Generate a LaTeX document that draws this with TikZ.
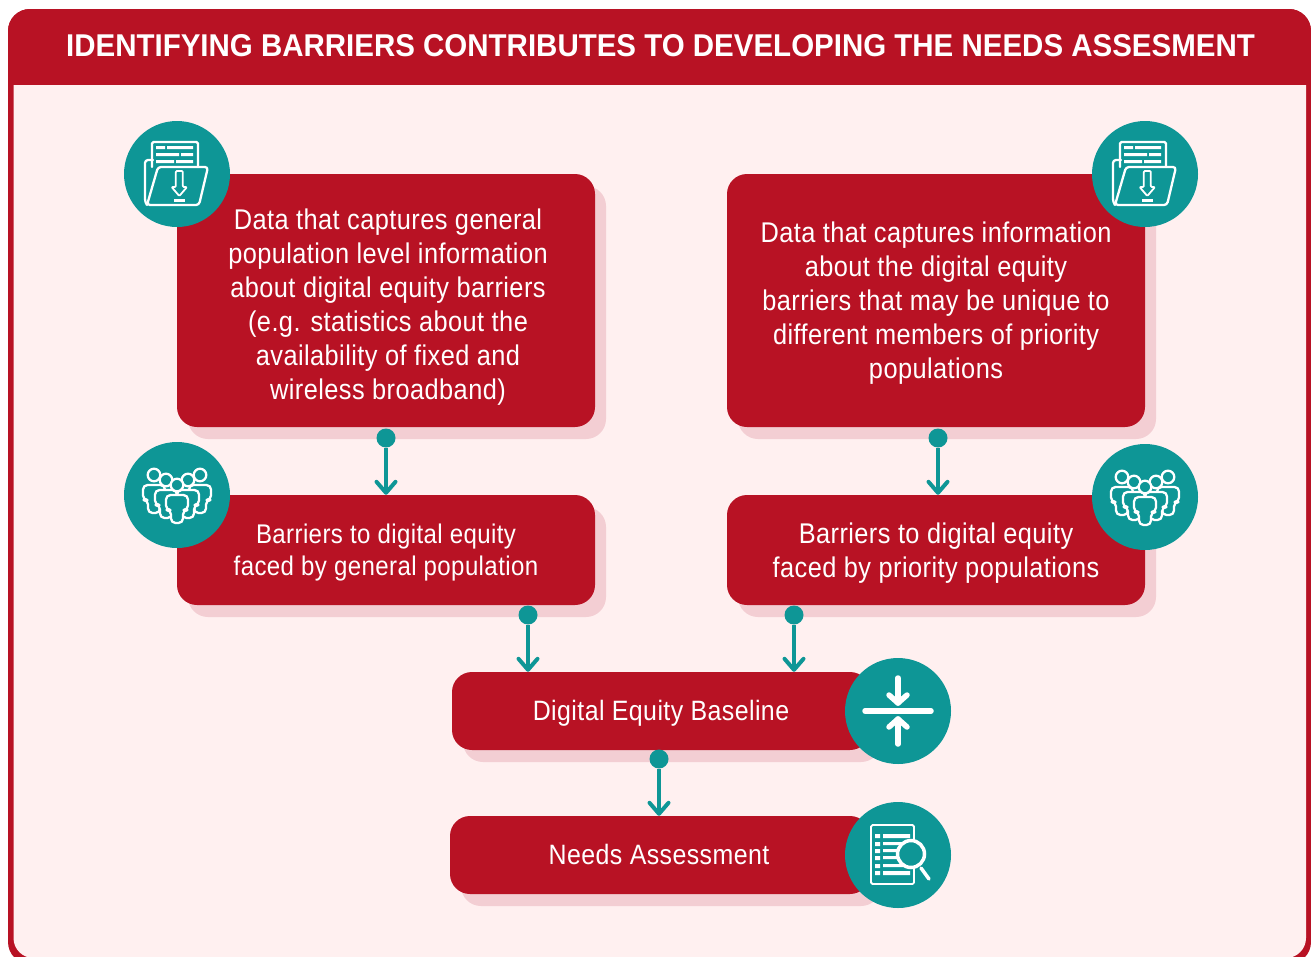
\documentclass[tikz,border=0pt]{standalone}
\usepackage{fontspec}
\setmainfont[FakeStretch=0.89,LetterSpace=1.5]{Liberation Sans}
\newfontfamily\titlefont[FakeStretch=0.936]{Liberation Sans}
\usetikzlibrary{shadows,arrows.meta}

\definecolor{barrierred}{HTML}{B81224}
\definecolor{panelpink}{HTML}{FFF0F0}
\definecolor{shadowpink}{HTML}{F3CED3}
\definecolor{iconteal}{HTML}{0E9696}

\tikzset{
  redbox/.style={fill=barrierred,rounded corners=20pt,inner sep=0pt,
    drop shadow={shadow xshift=11pt,shadow yshift=-12pt,fill=shadowpink,opacity=1}},
  boxtext/.style={text=white,inner sep=0pt,align=center,font=\fontsize{28.5}{34}\selectfont},
  smalltext/.style={boxtext,font=\fontsize{27}{32}\selectfont},
  iconcircle/.style={circle,fill=iconteal,minimum size=106pt,inner sep=0pt},
  startdot/.style={circle,fill=iconteal,minimum size=19pt,inner sep=0pt},
  flowarrow/.style={draw=iconteal,line width=4.5pt,-{Straight Barb[length=11pt,width=19pt,line width=4pt,round]}},
  iconline/.style={draw=white,line width=2.3pt,line join=round,line cap=round},
  % folder with paper and download arrow
  pics/foldericon/.style={code={
    \draw[iconline,rounded corners=1.5pt] (-25,-7) -- (-25,-32) -- (21,-32) -- (21,-7);
    \fill[white] (-21,-28) rectangle (-12,-25) (-10,-28) rectangle (16,-25);
    \fill[white] (-21,-21) rectangle (2,-18) (4,-21) rectangle (16,-18);
    \fill[white] (-21,-14) rectangle (-3,-11) (-1,-14) rectangle (16,-11);
    \draw[iconline,rounded corners=3pt] (-30,31) -- (-32,28) -- (-32,-14) -- (-24,-14);
    \draw[iconline,rounded corners=3pt] (-30,31) -- (-19,-7) -- (31,-7) -- (22,31) -- cycle;
    \draw[iconline,line width=1.8pt,rounded corners=1pt] (-1.2,13) -- (-1.2,-3) -- (5.8,-3) -- (5.8,13) -- (10,13) -- (2.3,22) -- (-5.4,13) -- cycle;
    \fill[white] (-3,25) rectangle (8,27.5);
  }},
  % group of five people
  pics/peopleicon/.style={code={
    \personicon{-23}{-20}
    \personicon{23}{-20}
    \personicon{-11}{-15}
    \personicon{11}{-15}
    \personicon{0}{-10}
  }},
  % arrows pressing on a line
  pics/mergeicon/.style={code={
    \draw[white,line width=5.5pt,line cap=round] (-33,0) -- (33,0);
    \draw[white,line width=5.5pt,line cap=round] (0,-33) -- (0,-8);
    \draw[white,line width=5.5pt,line cap=round,line join=round] (-9,-16) -- (0,-8) -- (9,-16);
    \draw[white,line width=5.5pt,line cap=round] (0,33) -- (0,8);
    \draw[white,line width=5.5pt,line cap=round,line join=round] (-9,16) -- (0,8) -- (9,16);
  }},
  % report under a magnifier
  pics/reporticon/.style={code={
    \draw[iconline,line width=1.8pt,rounded corners=1.5pt] (-27,-30) rectangle (16,29);
    \fill[white] (-23,-21) rectangle (-18,-17) (-23,-13) rectangle (-18,-9) (-23,-6) rectangle (-18,-2);
    \fill[white] (-23,1) rectangle (-18,5) (-23,9) rectangle (-18,13) (-23,16) rectangle (-18,20);
    \fill[white] (-15,-21) rectangle (12,-17) (-15,-13) rectangle (10,-10) (-15,-6) rectangle (10,-3);
    \fill[white] (-15,1) rectangle (10,4) (-15,9) rectangle (10,12) (-15,16) rectangle (12,20);
    \draw[iconline,line width=3.5pt,fill=iconteal] (13,-1) circle (13.5);
    \draw[iconline,line width=3.5pt] (23,13) -- (31,24);
  }}
}

% head and body of one person
\newcommand{\personicon}[2]{
  \begin{scope}[shift={(#1,#2)}]
    \draw[iconline,fill=iconteal] (0,0) circle (6.3);
    \draw[iconline,fill=iconteal,rounded corners=4.5pt] (-6,38) -- (-6,25) -- (-11,25) -- (-11,10) -- (11,10) -- (11,25) -- (6,25) -- (6,38) -- cycle;
  \end{scope}
}

\begin{document}
\begin{tikzpicture}[x=1pt,y=-1pt]
  \useasboundingbox (0,0) rectangle (1311,956);
  \clip (0,0) rectangle (1311,956);
  \fill[white] (0,0) rectangle (1311,956);

  % Frame and title band
  \fill[barrierred,rounded corners=22pt] (8,9) rectangle (1311,964);
  \fill[panelpink,rounded corners=20pt] (13.5,60) rectangle (1306,958);
  \fill[barrierred,rounded corners=22pt] (8,9) rectangle (1311,60);
  \fill[barrierred] (8,40) rectangle (1311,85);
  \node (title) at (660.5,46) {\titlefont\fontsize{31.5}{36}\selectfont\bfseries\color{white}IDENTIFYING BARRIERS CONTRIBUTES TO DEVELOPING THE NEEDS ASSESMENT};

  % Boxes
  \node[redbox,minimum width=418pt,minimum height=253pt] (general data) at (386,300.5) {};
  \node[redbox,minimum width=418pt,minimum height=253pt] (priority data) at (936,300.5) {};
  \node[redbox,minimum width=418pt,minimum height=110pt] (general barriers) at (386,550) {};
  \node[redbox,minimum width=418pt,minimum height=110pt] (priority barriers) at (936,550) {};
  \node[redbox,minimum width=418pt,minimum height=78pt] (baseline) at (661,711) {};
  \node[redbox,minimum width=420pt,minimum height=78pt] (assessment) at (660,855) {};

  % Box texts
  \node[boxtext] (general data text) at (388,307.5) {Data that captures general\\population level information\\about digital equity barriers\\(e.g. statistics about the\\availability of fixed and\\wireless broadband)};
  \node[boxtext] (priority data text) at (936,303.5) {Data that captures information\\about the digital equity\\barriers that may be unique to\\different members of priority\\populations};
  \node[smalltext] (general barriers text) at (386,553) {Barriers to digital equity\\faced by general population};
  \node[boxtext] (priority barriers text) at (936,553) {Barriers to digital equity\\faced by priority populations};
  \node[boxtext,font=\fontsize{28}{34}\selectfont] (baseline text) at (661,713) {Digital Equity Baseline};
  \node[boxtext,font=\fontsize{28}{34}\selectfont] (assessment text) at (659,854) {Needs Assessment};

  % Icon circles
  \node[iconcircle] (general data icon) at (177,174) {};
  \node[iconcircle] (priority data icon) at (1145,174) {};
  \node[iconcircle] (general barriers icon) at (177,495) {};
  \node[iconcircle] (priority barriers icon) at (1145,497) {};
  \node[iconcircle] (baseline icon) at (898,711) {};
  \node[iconcircle] (assessment icon) at (898,855) {};

  \pic at (general data icon) {foldericon};
  \pic at (priority data icon) {foldericon};
  \pic at (general barriers icon) {peopleicon};
  \pic at (priority barriers icon) {peopleicon};
  \pic at (baseline icon) {mergeicon};
  \pic at (assessment icon) {reporticon};

  % Connectors
  \node[startdot] (dot a) at (386,438) {};
  \node[startdot] (dot b) at (938,438) {};
  \node[startdot] (dot c) at (528,615) {};
  \node[startdot] (dot d) at (794,615) {};
  \node[startdot] (dot e) at (659,759) {};

  \draw[flowarrow] (dot a) -- (dot a |- general barriers.north);
  \draw[flowarrow] (dot b) -- (dot b |- priority barriers.north);
  \draw[flowarrow] (dot c) -- (dot c |- baseline.north);
  \draw[flowarrow] (dot d) -- (dot d |- baseline.north);
  \draw[flowarrow] (dot e) -- (dot e |- assessment.north);
\end{tikzpicture}
\end{document}
